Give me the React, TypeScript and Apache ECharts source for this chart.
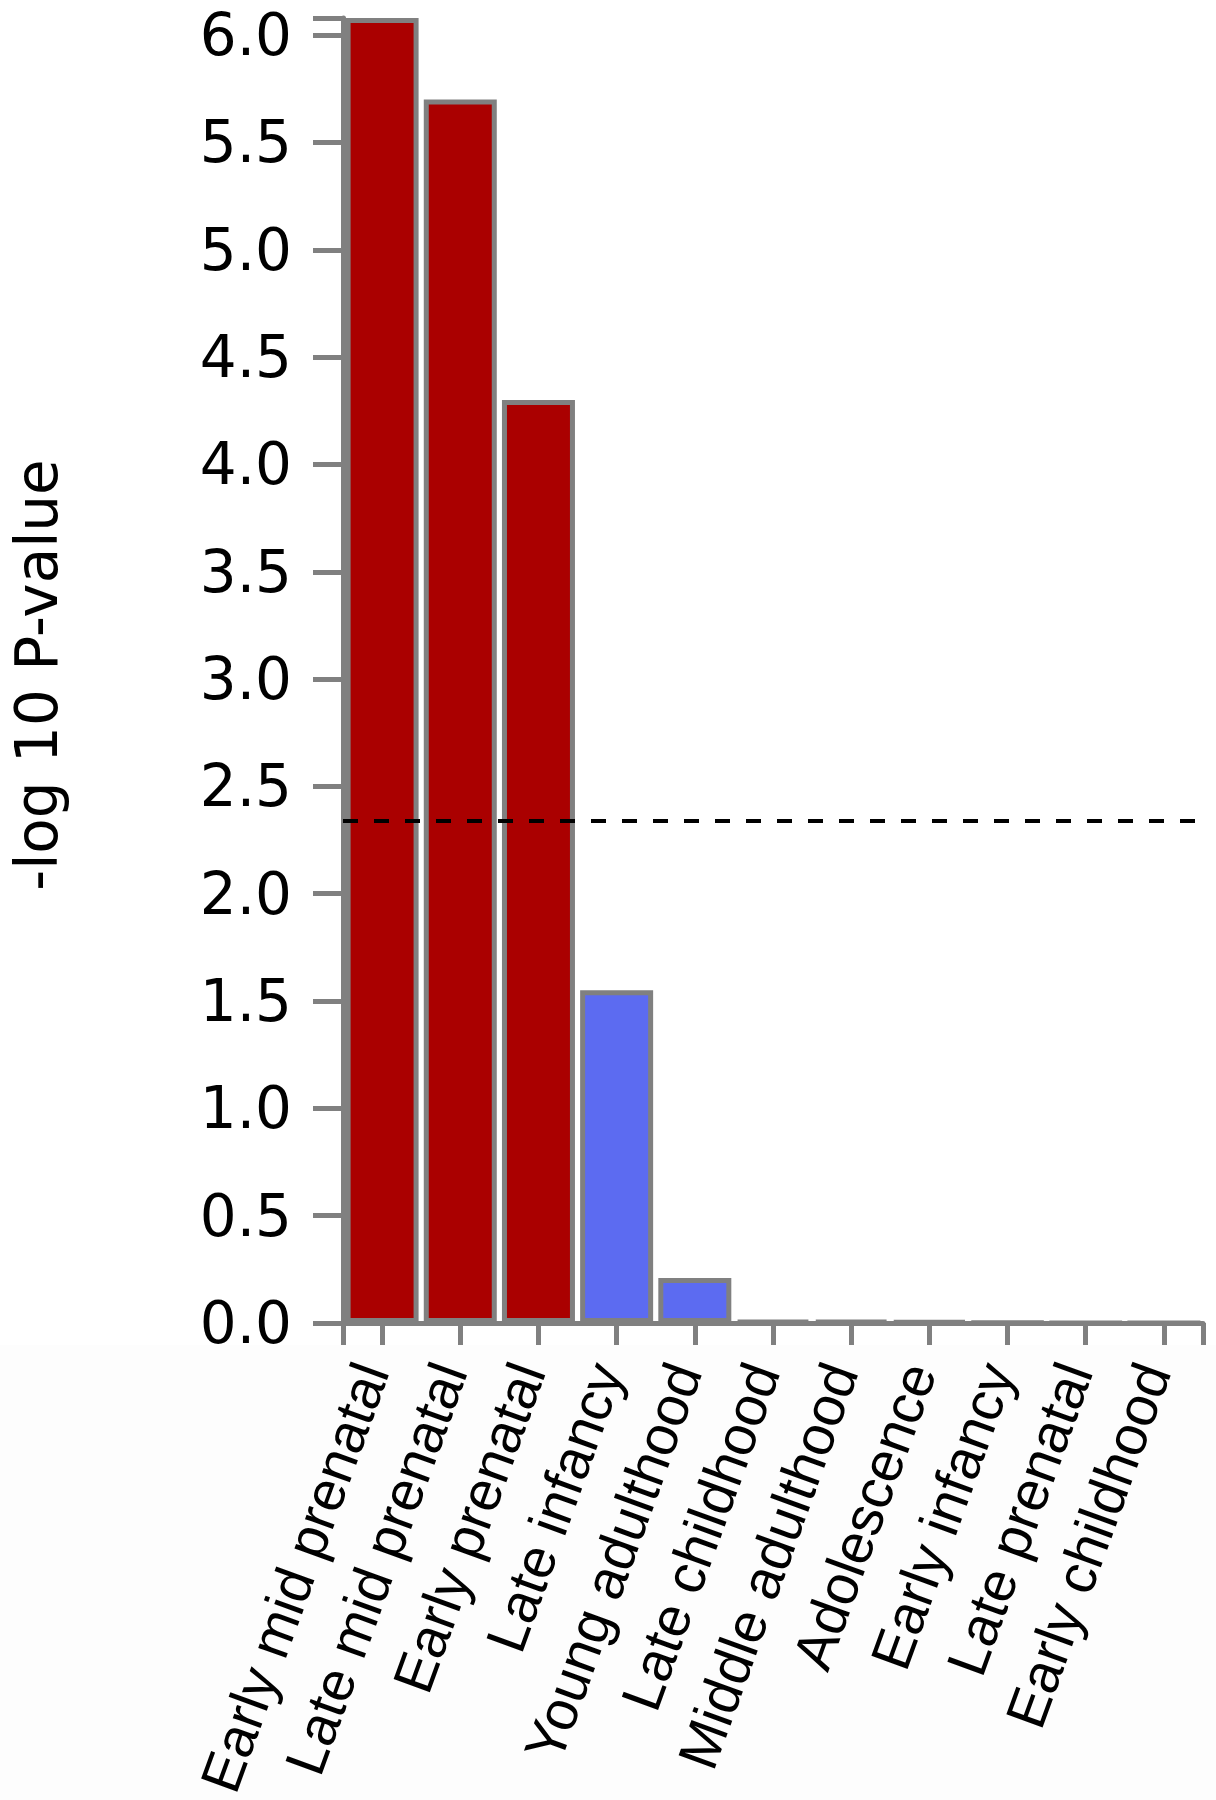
import React, { useEffect, useRef } from 'react';
import * as echarts from 'echarts';

// ---- data ----
const categories: string[] = [
  'Early mid prenatal',
  'Late mid prenatal',
  'Early prenatal',
  'Late infancy',
  'Young adulthood',
  'Late childhood',
  'Middle adulthood',
  'Adolescence',
  'Early infancy',
  'Late prenatal',
  'Early childhood',
];
const values: number[] = [6.08, 5.7, 4.3, 1.55, 0.21, 0.01, 0.01, 0.008, 0.002, 0.001, 0.0];
const threshold = 2.342; // Bonferroni line, -log10(0.05/11)
const yTickStep = 0.5;
const yTitle = '-log 10 P-value';

// ---- styles ----
const RED = '#aa0000';
const BLUE = '#5c6bf1';
const GRAY = '#808080';

export default function App() {
  const ref = useRef<HTMLDivElement>(null);

  useEffect(() => {
    if (!ref.current) return;
    const chart = echarts.init(ref.current, undefined, { renderer: 'svg' });
    const yMax = Math.max(...values);

    const option: any = {
      animation: false,
      backgroundColor: '#ffffff',
      grid: {
        left: 343,
        right: 13,
        top: 18,
        bottom: 477,
        containLabel: false,
        outerBoundsMode: 'none',
      },
      xAxis: [
        {
          type: 'category',
          data: categories,
          boundaryGap: true,
          position: 'bottom',
          axisLine: { show: true, onZero: false, lineStyle: { color: GRAY, width: 5 } },
          axisTick: {
            show: true,
            alignWithLabel: true,
            length: 22,
            lineStyle: { color: GRAY, width: 5 },
          },
          axisLabel: {
            interval: 0,
            rotate: 70,
            margin: 46,
            verticalAlign: 'bottom',
            lineHeight: 22,
            fontFamily: 'Liberation Sans',
            fontSize: 56,
            color: '#000000',
          },
          splitLine: { show: false },
        },
        {
          type: 'value',
          min: 0,
          max: categories.length,
          interval: categories.length,
          position: 'bottom',
          axisLine: { show: false },
          axisTick: { show: true, length: 22, lineStyle: { color: GRAY, width: 5 } },
          axisLabel: { show: false },
          splitLine: { show: false },
        },
      ],
      yAxis: [
        {
          type: 'value',
          min: 0,
          max: yMax,
          interval: yTickStep,
          position: 'left',
          axisLine: { show: true, lineStyle: { color: GRAY, width: 5 } },
          axisTick: { show: true, length: 30, lineStyle: { color: GRAY, width: 5 } },
          axisLabel: {
            margin: 51,
            fontFamily: 'DejaVu Sans',
            fontSize: 58,
            color: '#000000',
            formatter: (v: number) => (v > 6.0001 ? '' : v.toFixed(1)),
          },
          splitLine: { show: false },
        },
        {
          type: 'value',
          min: 0,
          max: yMax,
          interval: yMax,
          position: 'left',
          axisLine: { show: false },
          axisTick: { show: true, length: 30, lineStyle: { color: GRAY, width: 5 } },
          axisLabel: { show: false },
          splitLine: { show: false },
        },
      ],
      series: [
        {
          type: 'bar',
          xAxisIndex: 0,
          yAxisIndex: 0,
          barWidth: 73,
          data: values.map((v) => ({
            value: v,
            itemStyle: { color: v > threshold ? RED : BLUE },
          })),
          itemStyle: { borderColor: GRAY, borderWidth: 5 },
          markLine: {
            silent: true,
            symbol: 'none',
            label: { show: false },
            lineStyle: { color: '#000000', type: [15, 16], width: 4 },
            data: [{ yAxis: threshold }],
          },
        },
      ],
      graphic: [
        {
          type: 'rect',
          z: -10,
          shape: { x: 0, y: 1345, width: 1216, height: 455 },
          style: { fill: '#fdfdfd' },
        },
        {
          type: 'text',
          x: 37,
          y: 675,
          rotation: Math.PI / 2,
          style: {
            text: yTitle,
            fontFamily: 'DejaVu Sans',
            fontSize: 58,
            fill: '#000000',
            align: 'center',
            verticalAlign: 'middle',
          },
        },
      ],
    };

    chart.setOption(option);
    return () => chart.dispose();
  }, []);

  return (
    <div
      ref={ref}
      style={{ position: 'absolute', left: 0, top: 0, width: 1216, height: 1800 }}
    />
  );
}
